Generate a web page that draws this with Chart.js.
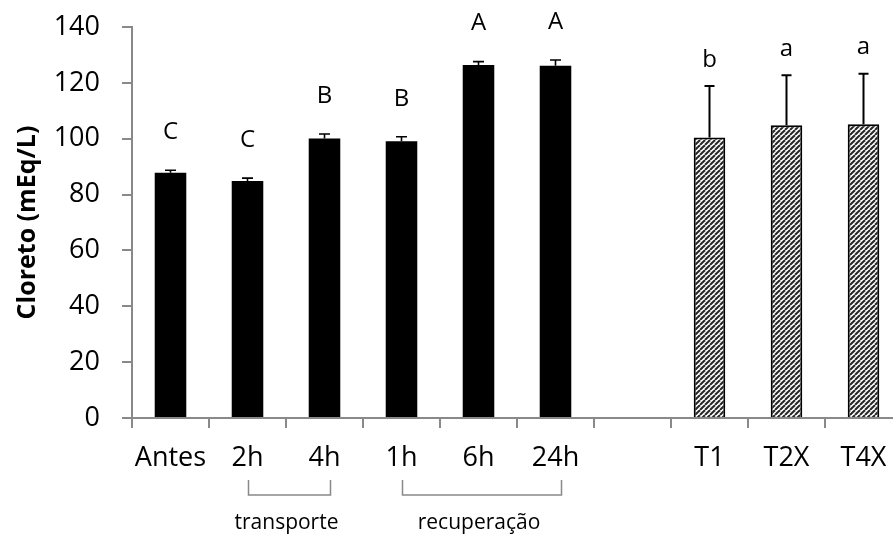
<!DOCTYPE html>
<html>
<head>
<meta charset="utf-8">
<script src="https://cdn.jsdelivr.net/npm/chart.js@4.4.1/dist/chart.umd.min.js"></script>
<style>
  html, body { margin: 0; padding: 0; background: #fff; overflow: hidden; width: 893px; height: 536px; }
  #wrap { width: 893px; height: 536px; overflow: hidden; position: relative; }
  canvas { display: block; }
</style>
</head>
<body>
<div id="wrap"><canvas id="c" width="910" height="536"></canvas></div>
<script>
// ---- data ----
const categories = ['Antes', '2h', '4h', '1h', '6h', '24h', '', 'T1', 'T2X', 'T4X'];
const means      = [87.8, 84.9, 100.1, 99.1, 126.4, 126.1, null, 100.4, 104.8, 105.2];
const errors     = [0.9, 1.0, 1.6, 1.6, 1.2, 2.1, null, 18.5, 17.9, 18.1];
const letters    = ['C', 'C', 'B', 'B', 'A', 'A', '', 'b', 'a', 'a'];
const hatched    = [false, false, false, false, false, false, false, true, true, true];
const groupNames = ['transporte', 'recuperação'];
const groupFrom  = [1, 3];
const groupTo    = [2, 5];
const yTicks     = [0, 20, 40, 60, 80, 100, 120, 140];
const yTitle     = 'Cloreto (mEq/L)';

const FONT = "'Open Sans', 'DejaVu Sans', sans-serif";
const AXIS_GRAY = '#898989';

function makeHatch() {
  const s = 5;
  const t = document.createElement('canvas');
  t.width = s; t.height = s;
  const g = t.getContext('2d');
  g.fillStyle = '#ffffff';
  g.fillRect(0, 0, s, s);
  g.strokeStyle = '#262626';
  g.lineWidth = 2;
  for (const x of [-s, 0, s]) {
    g.beginPath();
    g.moveTo(x, s);
    g.lineTo(x + s, 0);
    g.stroke();
  }
  return g.createPattern(t, 'repeat');
}
const hatch = makeHatch();

const annotations = {
  id: 'annotations',
  afterDatasetsDraw(chart) {
    const ctx = chart.ctx;
    const xs = chart.scales.x, ys = chart.scales.y;
    const meta = chart.getDatasetMeta(0);
    ctx.save();
    // error bars
    means.forEach((v, i) => {
      if (v === null) return;
      const bar = meta.data[i];
      const x = bar.x;
      const y0 = ys.getPixelForValue(v);
      const y1 = ys.getPixelForValue(v + errors[i]);
      ctx.strokeStyle = '#000';
      ctx.lineWidth = hatched[i] ? 2 : 1.6;
      const cap = hatched[i] ? 5 : 5.5;
      ctx.beginPath();
      ctx.moveTo(x, y0);
      ctx.lineTo(x, y1);
      ctx.moveTo(x - cap, y1);
      ctx.lineTo(x + cap, y1);
      ctx.stroke();
      // letters
      ctx.fillStyle = '#000';
      ctx.font = '24px ' + FONT;
      ctx.textAlign = 'center';
      ctx.textBaseline = 'middle';
      const off = hatched[i] ? 26 : 38;
      ctx.fillText(letters[i], x, y1 - off);
    });
    // brackets and group names
    groupNames.forEach((name, k) => {
      const xa = xs.getPixelForValue(groupFrom[k]) + 1;
      const xb = xs.getPixelForValue(groupTo[k]) + 6;
      const top = 480, bot = 495;
      ctx.strokeStyle = AXIS_GRAY;
      ctx.lineWidth = 1.5;
      ctx.beginPath();
      ctx.moveTo(xa, top);
      ctx.lineTo(xa, bot);
      ctx.lineTo(xb, bot);
      ctx.lineTo(xb, top);
      ctx.stroke();
      ctx.fillStyle = '#000';
      ctx.font = '21px ' + FONT;
      ctx.textAlign = 'center';
      ctx.textBaseline = 'middle';
      ctx.fillText(name, (xa + xb) / 2 - 3, 523);
    });
    ctx.restore();
  }
};

new Chart(document.getElementById('c'), {
  type: 'bar',
  data: {
    labels: categories,
    datasets: [{
      data: means,
      backgroundColor: hatched.map(h => h ? hatch : '#000000'),
      borderColor: '#000000',
      borderWidth: hatched.map(h => h ? 2 : 0),
      borderSkipped: 'bottom',
      barPercentage: 0.41,
      categoryPercentage: 1.0
    }]
  },
  options: {
    responsive: false,
    animation: false,
    devicePixelRatio: 1,
    layout: { padding: { top: 27, right: 8, bottom: 0, left: 0 } },
    plugins: { legend: { display: false }, tooltip: { enabled: false } },
    scales: {
      x: {
        grid: { display: true, drawOnChartArea: false, drawTicks: true, tickLength: 10, color: AXIS_GRAY, lineWidth: 2, offset: true },
        border: { display: true, color: AXIS_GRAY, width: 2 },
        ticks: { color: '#000', font: { family: FONT, size: 27 }, padding: 14, maxRotation: 0, autoSkip: false },
        afterFit: s => { s.height = 118; s.paddingLeft = 0; s.paddingRight = 0; }
      },
      y: {
        min: 0, max: 140,
        afterBuildTicks: s => { s.ticks = yTicks.map(v => ({ value: v })); },
        grid: { display: true, drawOnChartArea: false, drawTicks: true, tickLength: 10, color: AXIS_GRAY, lineWidth: 2 },
        border: { display: true, color: AXIS_GRAY, width: 2 },
        ticks: { color: '#000', font: { family: FONT, size: 27 }, padding: 22 },
        title: { display: true, text: yTitle, color: '#000', font: { family: FONT, size: 25, weight: 'bold' }, padding: { top: 13, bottom: 0 } },
        afterFit: s => { s.width = 132; s.paddingTop = 0; s.paddingBottom = 0; }
      }
    }
  },
  plugins: [annotations]
});
</script>
</body>
</html>
